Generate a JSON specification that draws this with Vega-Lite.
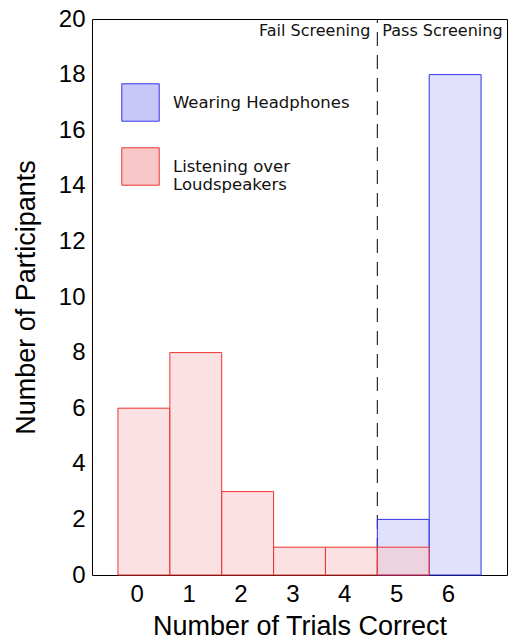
{
  "$schema": "https://vega.github.io/schema/vega-lite/v6.json",
  "width": 415,
  "height": 556,
  "autosize": {"type": "none"},
  "padding": {"left": 92, "top": 19, "right": 3, "bottom": 65},
  "background": "white",
  "config": {
    "view": {"stroke": "black", "strokeWidth": 1},
    "axis": {"grid": false, "domain": false, "ticks": false, "labelFont": "Liberation Sans", "titleFont": "Liberation Sans", "labelFontSize": 24, "titleFontSize": 27, "titleFontWeight": "normal", "labelColor": "black", "titleColor": "black"}
  },
  "layer": [
    {
      "data": {"values": [{"pos": 5}]},
      "mark": {"type": "rule", "strokeDash": [14, 9], "color": "black", "strokeWidth": 1},
      "encoding": {
        "x": {"field": "pos", "type": "ordinal", "bandPosition": 0},
        "y": {"datum": 0, "type": "quantitative"},
        "y2": {"datum": 20}
      }
    },
    {
      "data": {"values": [
        {"group": "Wearing Headphones", "trials": 5, "count": 2},
        {"group": "Wearing Headphones", "trials": 6, "count": 18},
        {"group": "Listening over Loudspeakers", "trials": 0, "count": 6},
        {"group": "Listening over Loudspeakers", "trials": 1, "count": 8},
        {"group": "Listening over Loudspeakers", "trials": 2, "count": 3},
        {"group": "Listening over Loudspeakers", "trials": 3, "count": 1},
        {"group": "Listening over Loudspeakers", "trials": 4, "count": 1},
        {"group": "Listening over Loudspeakers", "trials": 5, "count": 1}
      ]},
      "mark": {"type": "bar", "strokeWidth": 1, "fillOpacity": 0.55},
      "encoding": {
        "x": {"field": "trials", "type": "ordinal", "scale": {"domain": [0, 1, 2, 3, 4, 5, 6], "paddingInner": 0, "paddingOuter": 0.5}, "axis": {"labelAngle": 0, "labelPadding": 19, "title": "Number of Trials Correct", "titlePadding": 7}},
        "y": {"field": "count", "type": "quantitative", "stack": null, "scale": {"domain": [0, 20], "nice": false}, "axis": {"values": [0, 2, 4, 6, 8, 10, 12, 14, 16, 18, 20], "labelPadding": 7, "title": "Number of Participants", "titlePadding": 18}},
        "fill": {"field": "group", "type": "nominal", "scale": {"domain": ["Wearing Headphones", "Listening over Loudspeakers"], "range": ["#c8c8f8", "#f8c8c8"]},
          "legend": {"orient": "none", "legendX": 29, "legendY": 64, "title": null, "symbolType": "square", "symbolSize": 1400, "symbolStrokeWidth": 1, "labelFont": "DejaVu Sans", "labelFontSize": 16.5, "labelColor": "#111", "labelOffset": 13, "rowPadding": 21, "labelLimit": 300,
            "labelExpr": "datum.label == 'Listening over Loudspeakers' ? ['Listening over', 'Loudspeakers'] : datum.label"}},
        "stroke": {"field": "group", "type": "nominal", "scale": {"domain": ["Wearing Headphones", "Listening over Loudspeakers"], "range": ["#3333ee", "#ee3333"]}, "legend": null}
      }
    },
    {
      "data": {"values": [{"pos": 5, "label": "Fail Screening"}]},
      "mark": {"type": "text", "font": "DejaVu Sans", "fontSize": 16, "align": "right", "baseline": "top", "dx": -7, "dy": 4, "color": "#111"},
      "encoding": {
        "x": {"field": "pos", "type": "ordinal", "bandPosition": 0},
        "y": {"datum": 20, "type": "quantitative"},
        "text": {"field": "label"}
      }
    },
    {
      "data": {"values": [{"pos": 5, "label": "Pass Screening"}]},
      "mark": {"type": "text", "font": "DejaVu Sans", "fontSize": 16, "align": "left", "baseline": "top", "dx": 5, "dy": 4, "color": "#111"},
      "encoding": {
        "x": {"field": "pos", "type": "ordinal", "bandPosition": 0},
        "y": {"datum": 20, "type": "quantitative"},
        "text": {"field": "label"}
      }
    }
  ]
}
